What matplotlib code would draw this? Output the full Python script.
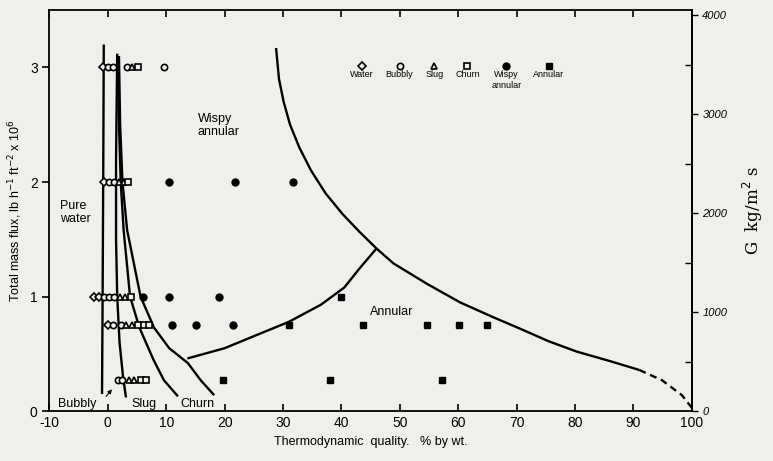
import matplotlib
matplotlib.use("Agg")
import matplotlib.pyplot as plt
from matplotlib.offsetbox import VPacker
from matplotlib.ticker import MultipleLocator

plt.rcParams['font.family'] = ['Liberation Sans', 'DejaVu Sans']
plt.rcParams['axes.unicode_minus'] = False

# regime boundaries (quality %, mass flux 10^6 lb/h ft2)
water_x = [-0.7, -0.8, -0.9, -1.0]
water_y = [3.2, 2.0, 1.0, 0.15]
bs_x = [1.6, 1.4, 1.4, 1.6, 2.0, 2.6, 3.1]
bs_y = [3.12, 2.2, 1.5, 1.0, 0.6, 0.3, 0.12]
sc_x = [1.8, 1.9, 2.2, 2.7, 3.8, 5.4, 7.8, 9.6, 12.0]
sc_y = [3.1, 2.5, 2.0, 1.58, 1.0, 0.73, 0.45, 0.27, 0.13]
cw_x = [1.9, 2.1, 2.5, 3.3, 5.6, 7.9, 10.5, 13.7, 15.9, 18.2]
cw_y = [3.1, 2.5, 2.0, 1.58, 1.0, 0.73, 0.55, 0.42, 0.27, 0.14]
wa_x = [28.8, 29.3, 30.1, 31.2, 32.8, 34.8, 37.3, 40.2, 43.0, 46.0, 48.9,
        54.7, 60.3, 66.0, 70.6, 75.5, 80.3, 85.8, 91.0]
wa_y = [3.17, 2.9, 2.7, 2.5, 2.3, 2.1, 1.9, 1.72, 1.57, 1.42, 1.29,
        1.11, 0.95, 0.82, 0.72, 0.61, 0.52, 0.44, 0.36]
dash_x = [91.0, 94.9, 98.3, 100.0]
dash_y = [0.36, 0.27, 0.14, 0.03]
la_x = [13.6, 20.0, 26.2, 31.0, 36.5, 40.5, 43.0, 46.0]
la_y = [0.46, 0.55, 0.68, 0.78, 0.93, 1.08, 1.24, 1.42]

# observations
water_px = [-0.9, -0.7, -2.4, -1.5, 0.0]
water_py = [3.0, 2.0, 1.0, 1.0, 0.75]
bubbly_px = [0.0, 0.9, 3.3, 9.6, 0.2, 1.0, -0.7, 0.2, 1.0, 0.9, 2.2, 1.7, 2.4]
bubbly_py = [3.0, 3.0, 3.0, 3.0, 2.0, 2.0, 1.0, 1.0, 1.0, 0.75, 0.75, 0.27, 0.27]
slug_px = [4.1, 1.9, 2.7, 2.1, 2.9, 3.1, 4.1, 3.6, 4.5]
slug_py = [3.0, 2.0, 2.0, 1.0, 1.0, 0.75, 0.75, 0.27, 0.27]
churn_px = [5.1, 3.4, 3.9, 5.1, 6.2, 7.0, 5.7, 6.5]
churn_py = [3.0, 2.0, 1.0, 0.75, 0.75, 0.75, 0.27, 0.27]
wispy_px = [10.5, 21.8, 31.7, 6.0, 10.4, 19.0, 11.0, 15.1, 21.4]
wispy_py = [2.0, 2.0, 2.0, 1.0, 1.0, 1.0, 0.75, 0.75, 0.75]
ann_px = [40.0, 31.0, 43.7, 54.6, 60.2, 65.0, 19.7, 38.1, 57.3]
ann_py = [1.0, 0.75, 0.75, 0.75, 0.75, 0.75, 0.27, 0.27, 0.27]

bg = '#efefec'
fig = plt.figure(figsize=(7.73, 4.61), dpi=100, facecolor=bg)
ax = fig.add_axes([0.064, 0.108, 0.831, 0.870], facecolor=bg)

lw = 1.7
for xs, ys in [(water_x, water_y), (bs_x, bs_y), (sc_x, sc_y), (cw_x, cw_y),
               (wa_x, wa_y), (la_x, la_y)]:
    ax.plot(xs, ys, color='black', lw=lw, solid_capstyle='butt', solid_joinstyle='round')
ax.plot(dash_x, dash_y, color='black', lw=lw, ls=(0, (3, 2)))

ms = 4.5
ax.plot(water_px, water_py, 'D', ms=ms - 0.5, mfc=bg, mec='black', mew=1.2, ls='none', label='Water')
ax.plot(bubbly_px, bubbly_py, 'o', ms=ms, mfc=bg, mec='black', mew=1.2, ls='none', label='Bubbly')
ax.plot(slug_px, slug_py, '^', ms=ms, mfc=bg, mec='black', mew=1.2, ls='none', label='Slug')
ax.plot(churn_px, churn_py, 's', ms=ms, mfc=bg, mec='black', mew=1.2, ls='none', label='Churn')
ax.plot(wispy_px, wispy_py, 'o', ms=ms + 0.5, color='black', ls='none', label='Wispy\nannular')
ax.plot(ann_px, ann_py, 's', ms=ms + 0.5, color='black', ls='none', label='Annular')

leg = ax.legend(loc='center', bbox_to_anchor=(0.635, 0.835), ncol=6, frameon=False,
                fontsize=6.5, handlelength=1.0, handletextpad=0.1, columnspacing=1.3,
                numpoints=1)
# put each key above its label
for col in leg._legend_handle_box.get_children():
    for row in col.get_children():
        row.__class__ = VPacker
        row.align = 'center'
for t in leg.get_texts():
    t.set_multialignment('center')

ax.set_xlim(-10, 100)
ax.set_ylim(0, 3.5)
ax.set_xticks(range(-10, 101, 10))
ax.set_yticks([0, 1, 2, 3])
ax.tick_params(axis='x', direction='in', top=True, length=5, labelsize=10, width=1.2)
ax.tick_params(axis='y', direction='out', length=5, labelsize=10, width=1.2)
for s in ax.spines.values():
    s.set_linewidth(1.3)

ax.set_xlabel('Thermodynamic  quality.   % by wt.', fontsize=9)
ax.set_ylabel('Total mass flux, lb h$^{-1}$ ft$^{-2}$ x 10$^{6}$', fontsize=9, labelpad=4)

ax.text(-8.2, 1.84, 'Pure\nwater', fontsize=9, va='top', linespacing=1.1)
ax.text(15.4, 2.6, 'Wispy\nannular', fontsize=9, va='top', linespacing=1.1)
ax.text(44.8, 0.87, 'Annular', fontsize=9, va='center')
ax.text(-8.6, 0.06, 'Bubbly', fontsize=9, va='center')
ax.text(4.0, 0.06, 'Slug', fontsize=9, va='center')
ax.text(12.5, 0.06, 'Churn', fontsize=9, va='center')
ax.annotate('', xy=(1.0, 0.21), xytext=(-0.6, 0.11),
            arrowprops=dict(arrowstyle='-|>', color='black', lw=0.8, mutation_scale=6))

ax2 = ax.twinx()
ax2.set_ylim(0, 4050)
ax2.set_yticks([0, 1000, 2000, 3000, 4000])
ax2.yaxis.set_minor_locator(MultipleLocator(500))
ax2.tick_params(axis='y', which='major', direction='out', length=4, labelsize=8, width=1.0)
ax2.tick_params(axis='y', which='minor', direction='in', length=5, width=1.0)
for t in ax2.get_yticklabels():
    t.set_fontstyle('italic')
for s in ax2.spines.values():
    s.set_visible(False)
ax2.spines['right'].set_visible(True)
ax2.spines['right'].set_linewidth(1.3)
ax2.set_ylabel('G  kg/m$^{2}$ s', fontsize=12, family=['DejaVu Serif'], labelpad=10)

fig.savefig('out.png', dpi=100, facecolor=bg)
